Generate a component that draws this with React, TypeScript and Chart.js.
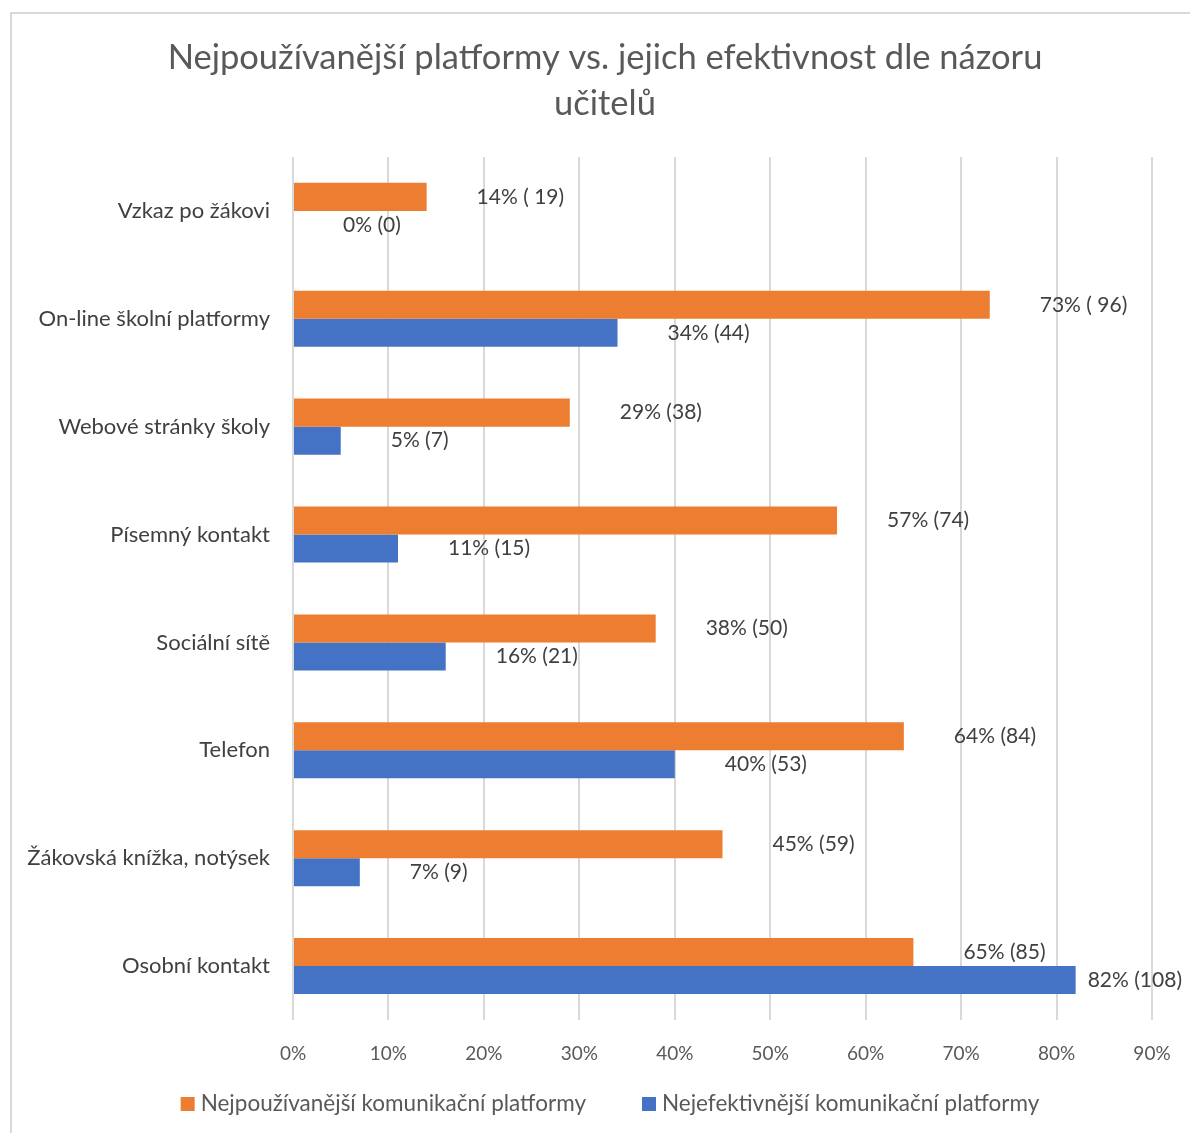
import React, { useEffect, useRef } from "react";
import { Chart, registerables } from "chart.js";

Chart.register(...registerables);

const categories = [
  "Vzkaz po žákovi",
  "On-line školní platformy",
  "Webové stránky školy",
  "Písemný kontakt",
  "Sociální sítě",
  "Telefon",
  "Žákovská knížka, notýsek",
  "Osobní kontakt",
];
const mostUsed = [14, 73, 29, 57, 38, 64, 45, 65];
const mostUsedLabels = ["14% ( 19)", "73% ( 96)", "29% (38)", "57% (74)", "38% (50)", "64% (84)", "45% (59)", "65% (85)"];
const mostEffective = [0, 34, 5, 11, 16, 40, 7, 82];
const mostEffectiveLabels = ["0% (0)", "34% (44)", "5% (7)", "11% (15)", "16% (21)", "40% (53)", "7% (9)", "82% (108)"];
const seriesNames = ["Nejpoužívanější komunikační platformy", "Nejefektivnější komunikační platformy"];
const seriesColors = ["#ED7D31", "#4472C4"];
const titleLines = ["Nejpoužívanější platformy vs. jejich efektivnost dle názoru", "učitelů"];

const FONT = "Lato, 'Open Sans', sans-serif";

const frameLabelsLegend = {
  id: "frameLabelsLegend",
  beforeDraw(chart: any) {
    const ctx = chart.ctx;
    ctx.save();
    ctx.fillStyle = "#ffffff";
    ctx.fillRect(0, 0, chart.width, chart.height);
    ctx.strokeStyle = "#d9d9d9";
    ctx.lineWidth = 2;
    ctx.strokeRect(11, 13, chart.width + 20, chart.height + 20);
    ctx.restore();
  },
  afterDatasetsDraw(chart: any) {
    const ctx = chart.ctx;
    const labelSets = [mostUsedLabels, mostEffectiveLabels];
    ctx.save();
    ctx.font = `21px ${FONT}`;
    ctx.fillStyle = "#404040";
    ctx.textBaseline = "middle";
    ctx.textAlign = "left";
    chart.data.datasets.forEach((ds: any, di: number) => {
      const meta = chart.getDatasetMeta(di);
      meta.data.forEach((bar: any, i: number) => {
        const text = labelSets[di][i];
        const w = ctx.measureText(text).width;
        let x = bar.x + 50;
        if (x + w > chart.width - 8) x = chart.width - 8 - w;
        ctx.fillText(text, x, bar.y);
      });
    });
    ctx.restore();
  },
  afterDraw(chart: any) {
    const ctx = chart.ctx;
    ctx.save();
    ctx.font = `22.5px ${FONT}`;
    ctx.textBaseline = "middle";
    ctx.textAlign = "left";
    const box = 14;
    const gapText = 6;
    const gapItems = 56;
    const widths = seriesNames.map((n) => ctx.measureText(n).width);
    const total = widths.reduce((a, w) => a + box + gapText + w, 0) + gapItems * (seriesNames.length - 1);
    let x = 610 - total / 2;
    const cy = chart.chartArea.bottom + 84;
    seriesNames.forEach((name, i) => {
      ctx.fillStyle = seriesColors[i];
      ctx.fillRect(x, cy - box / 2, box, box);
      ctx.fillStyle = "#595959";
      ctx.fillText(name, x + box + gapText, cy);
      x += box + gapText + widths[i] + gapItems;
    });
    ctx.restore();
  },
};

export default function App() {
  const ref = useRef<HTMLCanvasElement>(null);
  useEffect(() => {
    if (!ref.current) return;
    const chart = new Chart(ref.current, {
      type: "bar",
      data: {
        labels: categories,
        datasets: seriesNames.map((name, i) => ({
          label: name,
          data: i === 0 ? mostUsed : mostEffective,
          backgroundColor: seriesColors[i],
          categoryPercentage: 0.52,
          barPercentage: 1,
          xAxisID: "x",
          yAxisID: "y",
        })),
      },
      options: {
        indexAxis: "y",
        responsive: false,
        animation: false,
        layout: { padding: { left: 0, right: -20, top: 14, bottom: 49 } },
        scales: {
          x: {
            min: 0,
            max: 90,
            ticks: {
              stepSize: 10,
              callback: (v: any) => v + "%",
              font: { family: FONT, size: 19 },
              color: "#595959",
              padding: 22,
            },
            grid: { color: "#d9d9d9", lineWidth: 2, drawTicks: false },
            border: { display: false },
            afterFit: (s: any) => {
              s.height = 64;
              s.paddingLeft = 0;
              s.paddingRight = 0;
            },
          },
          y: {
            position: "left",
            ticks: {
              font: { family: FONT, size: 22 },
              color: "#404040",
              padding: 23,
            },
            grid: { display: false, drawTicks: false },
            border: { display: false },
            afterFit: (s: any) => {
              s.width = 293;
            },
          },
          yr: {
            type: "linear",
            position: "right",
            ticks: { display: false },
            grid: { display: false, drawTicks: false },
            border: { display: false },
            afterFit: (s: any) => {
              s.width = 58;
            },
          },
        },
        plugins: {
          title: {
            display: true,
            text: titleLines,
            font: { family: FONT, size: 34.5, weight: "normal", lineHeight: 1.333 },
            color: "#595959",
            padding: { top: 21, bottom: 30 },
          },
          legend: { display: false },
          tooltip: { enabled: false },
        },
      },
      plugins: [frameLabelsLegend],
    });
    return () => chart.destroy();
  }, []);
  return (
    <div style={{ position: "absolute", left: 0, top: 0, width: 1190, height: 1133 }}>
      <canvas ref={ref} width={1190} height={1133} style={{ display: "block" }} />
    </div>
  );
}
